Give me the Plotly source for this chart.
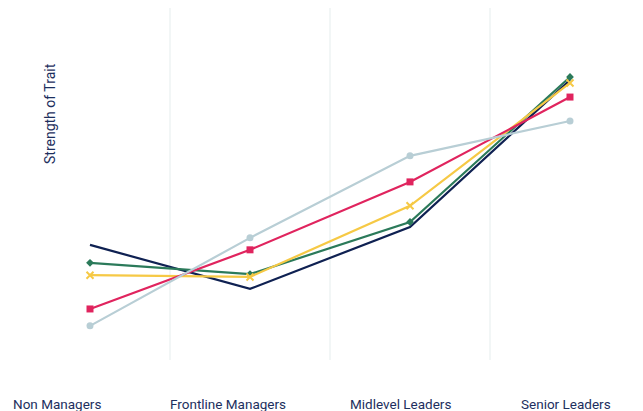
import plotly.graph_objects as go

categories = ["Non Managers", "Frontline Managers", "Midlevel Leaders", "Senior Leaders"]

series_names = ["Series A", "Series B", "Series C", "Series D", "Series E"]
navy_vals = [32.7, 20.2, 37.8, 79.5]
green_vals = [27.6, 24.4, 39.2, 80.4]
yellow_vals = [24.1, 23.6, 43.8, 78.7]
red_vals = [14.5, 31.3, 50.6, 74.7]
light_vals = [9.7, 34.7, 58.0, 67.9]

y_title = "Strength of Trait"

# page body adds an 8px offset; figure sized to the visible window
W, H = 635, 403
ML, MT, MB = 2, 0, 51
plot_w = W - ML
plot_h = H - MT - MB
band = 160.0

styles = [
    (navy_vals, "#0f2152", None, 0),
    (green_vals, "#2b7a5a", "diamond", 6),
    (yellow_vals, "#f6c945", "x-thin", 7),
    (red_vals, "#e0245e", "square", 7),
    (light_vals, "#b8ced5", "circle", 7),
]

fig = go.Figure()
idx = list(range(len(categories)))
for name, (vals, color, sym, size) in zip(series_names, styles):
    mode = "lines" if sym is None else "lines+markers"
    marker = dict(color=color, size=size, symbol=sym or "circle",
                  line=dict(color=color, width=2 if sym == "x-thin" else 0))
    fig.add_trace(go.Scatter(x=idx, y=vals, mode=mode, name=name,
                             line=dict(color=color, width=2.2),
                             marker=marker, hoverinfo="skip"))

xmax = -0.5 + plot_w / band
fig.update_xaxes(range=[-0.5, xmax], tickvals=[-0.5, 0.5, 1.5, 2.5, 3.5],
                 showticklabels=False, showgrid=True, gridcolor="#f2f6f6",
                 gridwidth=1.5, zeroline=False, showline=False, ticks="")
fig.update_yaxes(range=[0, 100], showticklabels=False, showgrid=False,
                 zeroline=False, showline=False, ticks="")

label_px = [49, 220, 392, 558]
annots = []
for lab, px in zip(categories, label_px):
    annots.append(dict(text=lab, x=(px - ML) / plot_w, xref="paper",
                       y=(plot_h - 396) / plot_h, yref="paper", yanchor="middle",
                       xanchor="center", showarrow=False,
                       font=dict(family="Roboto", size=13.5, color="#1d2f5e")))
annots.append(dict(text=y_title, x=(42 - ML) / plot_w, xref="paper",
                   y=(plot_h - 106) / plot_h, yref="paper",
                   textangle=-90, showarrow=False, xanchor="center", yanchor="middle",
                   font=dict(family="Roboto", size=14, color="#1d2f5e")))

fig.update_layout(width=W, height=H, margin=dict(l=ML, r=0, t=MT, b=MB),
                  paper_bgcolor="white", plot_bgcolor="white",
                  showlegend=False, annotations=annots)

fig.write_html("out.html")
